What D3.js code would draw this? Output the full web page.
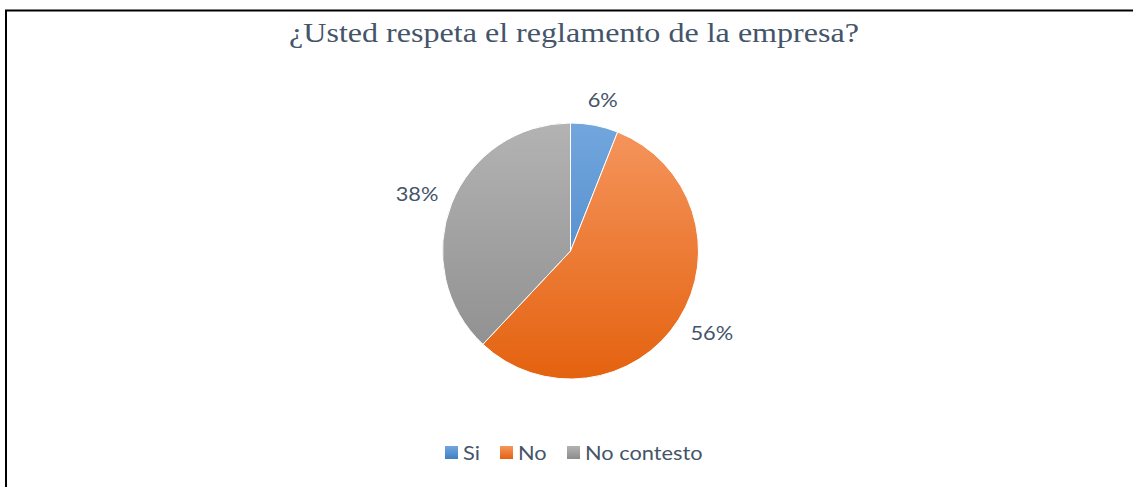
<!DOCTYPE html>
<html>
<head>
<meta charset="utf-8">
<script src="https://cdn.jsdelivr.net/npm/d3@7"></script>
<style>
  html, body { margin: 0; padding: 0; background: #fff; }
  svg { display: block; }
</style>
</head>
<body>
<svg id="chart" width="1133" height="487"></svg>
<script>
'use strict';

// data
var categories = ['Si', 'No', 'No contesto'];
var values = [6, 56, 38];
var labels = ['6%', '56%', '38%'];
var title = '¿Usted respeta el reglamento de la empresa?';

// gradient stops per slice, light (top) to dark (bottom)
var colorsTop = ['#72a6dd', '#f5965e', '#b3b3b3'];
var colorsBottom = ['#3f7fc4', '#e4620f', '#8c8c8c'];

var cx = 570.5,
    cy = 251,
    radius = 128,
    textStretch = 1.09; // reference text is a bit wider than Lato

var svg = d3.select('#chart');
var defs = svg.append('defs');

// frame (only top and left visible)
svg.append('path')
    .attr('d', 'M6,487V10.5H1133')
    .attr('fill', 'none')
    .attr('stroke', '#000')
    .attr('stroke-width', 2);

svg.append('text')
    .attr('x', 289)
    .attr('y', 42)
    .attr('textLength', 570)
    .attr('lengthAdjust', 'spacingAndGlyphs')
    .style('font-family', '"Liberation Serif", "Times New Roman", serif')
    .style('font-size', '28px')
    .style('fill', '#44546a')
    .text(title);

function addGradient(id, y1, y2, units, i) {
    var g = defs.append('linearGradient')
        .attr('id', id)
        .attr('gradientUnits', units)
        .attr('x1', 0).attr('y1', y1)
        .attr('x2', 0).attr('y2', y2);
    g.append('stop').attr('offset', '0%').attr('stop-color', colorsTop[i]);
    g.append('stop').attr('offset', '100%').attr('stop-color', colorsBottom[i]);
}

categories.forEach(function(c, i) {
    // slice gradient spans the whole pie, legend swatch its own box
    addGradient('grad' + i, -radius, radius, 'userSpaceOnUse', i);
    addGradient('lg' + i, 0, 1, 'objectBoundingBox', i);
});

var pie = d3.pie().sort(null).value(function(d) { return d; });
var arcs = pie(values);
var arc = d3.arc().innerRadius(0).outerRadius(radius);
var labelArc = d3.arc().innerRadius(radius + 14).outerRadius(radius + 14);

var plot = svg.append('g').attr('transform', 'translate(' + cx + ',' + cy + ')');

plot.selectAll('path.slice')
    .data(arcs)
    .enter().append('path')
    .attr('class', 'slice')
    .attr('d', arc)
    .attr('fill', function(d, i) { return 'url(#grad' + i + ')'; })
    .attr('stroke', '#fff')
    .attr('stroke-width', 1);

// outside-end labels: push the box out from the arc so its near edge sits on labelArc
plot.selectAll('g.label')
    .data(arcs)
    .enter().append('g')
    .attr('class', 'label')
    .each(function(d, i) {
        var g = d3.select(this),
            t = g.append('text')
                .attr('text-anchor', 'middle')
                .attr('dy', '0.35em')
                .attr('transform', 'scale(' + textStretch + ',1)')
                .style('font-family', 'Lato, "Noto Sans", sans-serif')
                .style('font-size', '20px')
                .style('fill', '#44546a')
                .text(labels[i]);
            var bb = t.node().getBBox(),
                w = bb.width * textStretch,
                h = bb.height,
                a = (d.startAngle + d.endAngle) / 2,
                s = Math.sin(a), c = Math.cos(a),
                p = labelArc.centroid(d),
                x = p[0] + w / 2 * Math.sign(s) * Math.min(1, Math.abs(s) * 2),
                y = p[1] - h / 2 * c;
            g.attr('transform', 'translate(' + x + ',' + y + ')');
    });

// legend
var legendX = [445, 500, 567];
var item = svg.append('g').selectAll('g.item')
    .data(categories)
    .enter().append('g')
    .attr('class', 'item')
    .attr('transform', function(d, i) { return 'translate(' + legendX[i] + ',446)'; });

item.append('rect')
    .attr('width', 13)
    .attr('height', 13)
    .attr('fill', function(d, i) { return 'url(#lg' + i + ')'; });

item.append('text')
    .attr('transform', 'translate(18,0) scale(' + textStretch + ',1)')
    .attr('y', 6.5)
    .attr('dy', '0.35em')
    .style('font-family', 'Lato, "Noto Sans", sans-serif')
    .style('font-size', '20px')
    .style('fill', '#44546a')
    .text(function(d) { return d; });
</script>
</body>
</html>
